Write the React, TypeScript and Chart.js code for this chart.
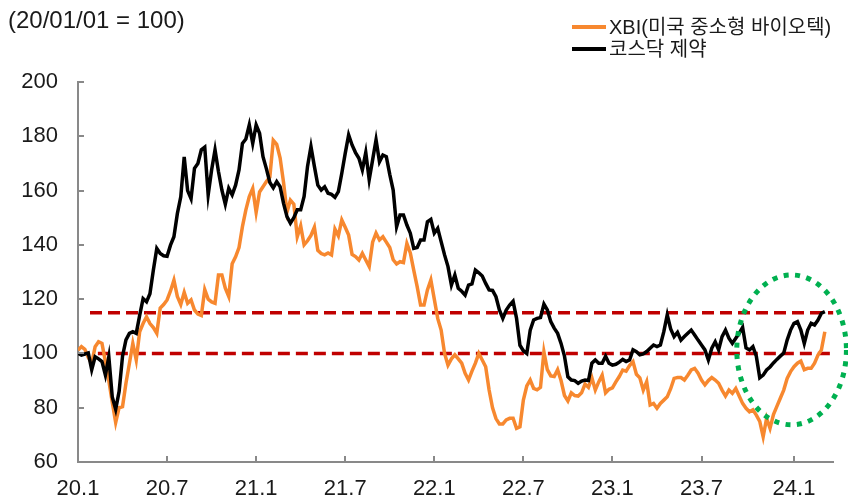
import React, { useEffect, useRef } from "react";
import { Chart, registerables } from "chart.js";

Chart.register(...registerables);

// Weekly index values (2020-01-01 = 100), week 0 = 2020-01-01
const xbi = [
  101.2, 102.5, 101.5, 98.5, 96.3, 102.5, 104.3, 103.7, 97, 90,
  82, 74.5, 80, 80.4, 89, 96.3, 103.7, 97.6, 108, 111,
  113.5, 111, 109.5, 107.4, 116.7, 118, 119.7, 123, 127, 121,
  118, 122.5, 118.5, 119.7, 116, 114.5, 114, 123.5, 120, 119,
  118.5, 128.9, 128.9, 124, 121, 133, 135.6, 139, 146.7, 152.9,
  157.8, 160.8, 152, 159.5, 161.4, 163.3, 165, 178.5, 177, 172,
  163, 152, 156.5, 155, 143, 147, 140, 141.5, 143.5, 146.5,
  138, 136.8, 136.3, 137, 136.3, 145.8, 143.3, 149.2, 146.5, 143.6,
  136.5, 135.7, 134.4, 136.9, 134.4, 132, 141, 144.3, 141.8, 143,
  141, 139, 134.5, 133, 133.8, 133.5, 140.5, 137, 130.7, 124.6,
  117.8, 117.8, 123.4, 127.1, 120, 112.9, 108.6, 100, 95.7, 98,
  99.5, 98, 96.4, 92.7, 90.2, 93.5, 96.4, 100, 97.6, 95.1,
  86.5, 80, 76, 74, 74, 75.5, 76.1, 76.1, 72.4, 73,
  82.8, 88, 90.2, 87.1, 86.6, 87.5, 100.6, 94, 91.7, 91.5,
  94, 90, 84.5, 82.5, 85.5, 84.5, 84.3, 85.5, 88.7, 87.5,
  91, 86.5, 89.5, 92, 85.5, 86.8, 87.3, 89.5, 91.5, 93.9,
  93.5, 95.5, 97, 92.3, 91, 86.5, 89.6, 81, 81.6, 79.8,
  81.6, 82.8, 84, 87, 90.8, 91.1, 91.1, 90.2, 92, 93.9,
  94.5, 92.7, 90.2, 88.4, 90, 91.1, 90.2, 89, 86.5, 84.3,
  86.5, 85.3, 87.1, 84.3, 81.6, 79.8, 78.5, 79.2, 77.3, 75,
  69.3, 76.1, 72.4, 77.5, 80.5, 83.5, 86.5, 90.8, 93.3, 95.1,
  96.4, 97.2, 94, 94.5, 94.5, 96.4, 99.4, 101.3, 108,
];

const kosdaqPharma = [
  100, 99.4, 99.8, 100.2, 94, 98.8, 98, 97, 92, 98.8,
  84, 79.4, 86, 99, 105, 107.4, 108, 107.4, 114, 120.2,
  119, 122, 130.7, 138.7, 136.8, 136, 135.8, 139.9, 143, 151.5,
  157.7, 172.4, 160, 157, 168.2, 170, 175, 176, 158.4, 167.6,
  175, 167, 160.2, 155, 160.8, 158.4, 162, 167.6, 177.4, 179,
  184.2, 177.4, 184.2, 181.1, 172.5, 168, 163, 161, 163.3, 161.4,
  155.3, 150.4, 148, 150, 152.9, 152.9, 157.8, 168.9, 176.2, 168.9,
  162, 160.2, 161.4, 159, 158.6, 157.5, 159.6, 166.4, 173.7, 180.5,
  176.8, 174, 171.9, 167.6, 174, 164, 171.3, 178.7, 170.6, 173.1,
  172.5, 166, 160.2, 146.7, 151, 151, 147.3, 144.3, 138.7, 139,
  141.8, 141.8, 148.5, 149.4, 144.3, 146.1, 141.2, 136.3, 132, 125.2,
  128.9, 124, 122.9, 121.5, 125.2, 125.6, 130.7, 129.7, 128.5, 125.8,
  123.4, 123.2, 120.9, 116, 112.9, 116, 117.8, 119.2, 113, 103,
  101, 100, 108.6, 112.3, 112.9, 113.2, 118.2, 116, 111.7, 109.3,
  107.4, 103.7, 99, 91.4, 90.2, 90, 89, 89.8, 90.2, 90,
  96.4, 97.6, 96.4, 96.4, 99, 96.4, 95.7, 96, 96.8, 97.8,
  97, 97.6, 101.3, 100.6, 99.5, 99.8, 100.7, 101.9, 103.1, 102.5,
  103.1, 108, 114.2, 109, 106.2, 107.8, 104.9, 106.2, 107.4, 108.6,
  106.8, 104.9, 103.1, 101.3, 97.6, 101.9, 104.3, 101.3, 106.2, 108.6,
  105.6, 103.7, 105.6, 107.4, 109.6, 102, 101.3, 102.5, 99, 91,
  92, 93.9, 95, 96.5, 97.8, 99, 100.1, 104.9, 108.6, 111.1,
  111.7, 108.6, 103.7, 108.6, 111.1, 110.5, 112.3, 114.8, 115.4,
];

const seriesNames = ["XBI(미국 중소형 바이오텍)", "코스닥 제약"];
const unitLabel = "(20/01/01 = 100)";

// x-axis ticks (weeks since 2020-01-01) and their labels
const tickWeeks = [0, 26, 52, 78, 104, 130, 156, 182, 209];
const tickLabels = ["20.1", "20.7", "21.1", "21.7", "22.1", "22.7", "23.1", "23.7", "24.1"];
const yTicks = [60, 80, 100, 120, 140, 160, 180, 200];

// reference levels (dashed) and the weeks they span
const refLevels = [115, 100];
const refStartWeeks = [3.5, 5.8];
const refEndWeek = 220.5;

// highlighted region (dotted ellipse) in data units
const highlight = { week: 208.3, value: 101.3, weekRadius: 16, valueRadius: 27.6 };

const FONT = "'Liberation Sans', 'Noto Sans CJK KR', sans-serif";
const AXIS = "#898989";
const TEXT = "#1a1a1a";
const ORANGE = "#F7882F";
const BLACK = "#000000";

export default function App() {
  const ref = useRef<HTMLCanvasElement | null>(null);

  useEffect(() => {
    if (!ref.current) return;
    const overlay = {
      id: "overlay",
      afterDraw(chart: any) {
        const { ctx, chartArea } = chart;
        const x = chart.scales.x;
        const y = chart.scales.y;
        ctx.save();
        ctx.strokeStyle = AXIS;
        ctx.lineWidth = 2;
        ctx.setLineDash([]);
        tickWeeks.forEach((w) => {
          const px = Math.round(x.getPixelForValue(w));
          ctx.beginPath();
          ctx.moveTo(px, chartArea.bottom);
          ctx.lineTo(px, chartArea.bottom - 6);
          ctx.stroke();
        });
        yTicks.forEach((v) => {
          const py = Math.round(y.getPixelForValue(v));
          ctx.beginPath();
          ctx.moveTo(chartArea.left, py);
          ctx.lineTo(chartArea.left + 6, py);
          ctx.stroke();
        });
        const cx = x.getPixelForValue(highlight.week);
        const cy = y.getPixelForValue(highlight.value);
        const rx = Math.abs(x.getPixelForValue(highlight.week + highlight.weekRadius) - cx);
        const ry = Math.abs(y.getPixelForValue(highlight.value + highlight.valueRadius) - cy);
        ctx.strokeStyle = "#00B050";
        ctx.lineWidth = 5;
        ctx.lineCap = "butt";
        ctx.setLineDash([5, 6.5]);
        ctx.beginPath();
        ctx.ellipse(cx, cy, rx, ry, 0, 0, Math.PI * 2);
        ctx.stroke();
        ctx.restore();
      },
    };

    const chart = new Chart(ref.current, {
      type: "line",
      data: {
        datasets: [
          {
            label: seriesNames[1],
            data: kosdaqPharma.map((v, i) => ({ x: i, y: v })),
            borderColor: BLACK,
            borderWidth: 3.5,
            pointRadius: 0,
            tension: 0,
          },
          {
            label: seriesNames[0],
            data: xbi.map((v, i) => ({ x: i, y: v })),
            borderColor: ORANGE,
            borderWidth: 3.5,
            pointRadius: 0,
            tension: 0,
          },
          ...refLevels.map((lvl, k) => ({
            label: "ref" + k,
            data: [
              { x: refStartWeeks[k], y: lvl },
              { x: refEndWeek, y: lvl },
            ],
            borderColor: "#C00000",
            borderWidth: 3.5,
            borderDash: [12, 6],
            pointRadius: 0,
          })),
        ],
      },
      options: {
        animation: false,
        responsive: true,
        maintainAspectRatio: false,
        events: [],
        layout: { padding: { top: 82, right: 14.6, bottom: 0, left: 0 } },
        plugins: { legend: { display: false }, tooltip: { enabled: false }, title: { display: false } },
        scales: {
          x: {
            type: "linear",
            min: 0,
            max: refEndWeek,
            grid: { display: false, drawTicks: false },
            border: { display: true, color: AXIS, width: 2 },
            afterBuildTicks: (scale: any) => {
              scale.ticks = tickWeeks.map((v) => ({ value: v }));
            },
            afterFit: (scale: any) => {
              scale.height = 40;
            },
            ticks: {
              autoSkip: false,
              maxRotation: 0,
              padding: 14,
              color: TEXT,
              font: { family: FONT, size: 22 },
              callback: (v: any) => {
                const i = tickWeeks.indexOf(Number(v));
                return i >= 0 ? tickLabels[i] : "";
              },
            },
          },
          y: {
            min: 60,
            max: 200,
            grid: { display: false, drawTicks: false },
            border: { display: true, color: AXIS, width: 2 },
            afterFit: (scale: any) => {
              scale.width = 78;
            },
            ticks: {
              stepSize: 20,
              padding: 20,
              color: TEXT,
              font: { family: FONT, size: 22 },
            },
          },
        },
      },
      plugins: [overlay],
    });
    return () => chart.destroy();
  }, []);

  const textStyle: React.CSSProperties = {
    fontFamily: FONT,
    fontSize: 20,
    color: TEXT,
    whiteSpace: "nowrap",
    lineHeight: "22px",
  };

  return (
    <div style={{ position: "fixed", left: 0, top: 0, width: 848, height: 502, background: "#fff" }}>
      <canvas ref={ref} width={848} height={502} />
      <div style={{ ...textStyle, fontSize: 24, lineHeight: "26px", position: "absolute", left: 8, top: 7 }}>
        {unitLabel}
      </div>
      <div style={{ position: "absolute", left: 572, top: 16, display: "flex", alignItems: "center" }}>
        <span style={{ display: "inline-block", width: 34, height: 4, background: ORANGE }} />
        <span style={{ ...textStyle, marginLeft: 3 }}>{seriesNames[0]}</span>
      </div>
      <div style={{ position: "absolute", left: 572, top: 38, display: "flex", alignItems: "center" }}>
        <span style={{ display: "inline-block", width: 34, height: 4, background: BLACK }} />
        <span style={{ ...textStyle, marginLeft: 3 }}>{seriesNames[1]}</span>
      </div>
    </div>
  );
}
